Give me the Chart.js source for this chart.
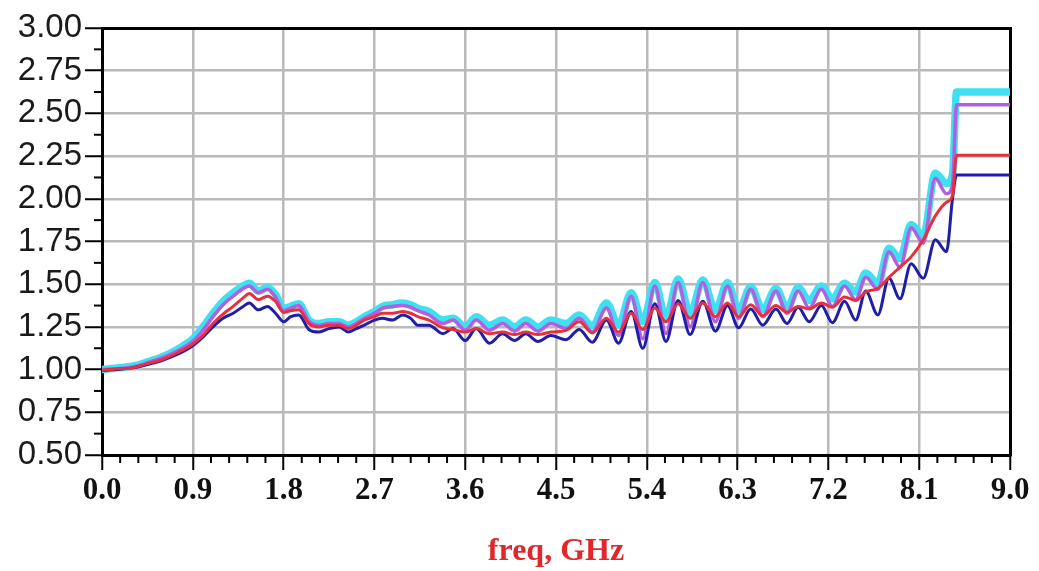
<!DOCTYPE html>
<html><head><meta charset="utf-8">
<script src="https://cdn.jsdelivr.net/npm/chart.js@4.4.1/dist/chart.umd.min.js"></script>
<style>html,body{margin:0;padding:0;background:#fff;} #wrap{width:1039px;height:571px;}</style>
</head><body><div id="wrap"><canvas id="c" width="1039" height="571"></canvas></div>
<script>
// Frequency grid (GHz), shared by all traces
const freq = [
  0, 0.15, 0.3, 0.45, 0.6, 0.75, 0.9,
  1.0, 1.1, 1.2, 1.3, 1.4, 1.46, 1.55, 1.64, 1.72, 1.8, 1.87, 1.95, 2.05, 2.15, 2.25,
  2.35, 2.44, 2.52, 2.6, 2.7, 2.78, 2.88, 2.98, 3.06, 3.13, 3.24, 3.38, 3.48, 3.6, 3.71, 3.84, 3.97, 4.09, 4.2, 4.32, 4.45,
  4.6, 4.73, 4.86, 5.0, 5.12, 5.245, 5.36, 5.48, 5.59, 5.71, 5.83, 5.955, 6.08, 6.2, 6.31, 6.43, 6.55, 6.68, 6.79, 6.9, 7.01, 7.13, 7.24, 7.36, 7.47, 7.57, 7.69, 7.8, 7.91, 8.02, 8.14, 8.26, 8.37,
  8.43, 8.47, 9.0
];
const seriesCyan = [
  1.00, 1.01, 1.02, 1.045, 1.075, 1.12, 1.18,
  1.25, 1.33, 1.40, 1.45, 1.49, 1.505, 1.46, 1.48, 1.44, 1.36, 1.37, 1.385, 1.29, 1.27, 1.28,
  1.28, 1.26, 1.28, 1.31, 1.34, 1.37, 1.38, 1.39, 1.38, 1.36, 1.34, 1.29, 1.30, 1.25, 1.31, 1.26, 1.29, 1.25, 1.29, 1.25, 1.29,
  1.27, 1.32, 1.255, 1.39, 1.26, 1.45, 1.28, 1.51, 1.30, 1.53, 1.33, 1.525, 1.345, 1.51, 1.345, 1.485, 1.35, 1.475, 1.36, 1.48, 1.405, 1.49, 1.415, 1.505, 1.455, 1.565, 1.505, 1.71, 1.65, 1.85, 1.78, 2.15, 2.09,
  2.14, 2.625, 2.625
];
const seriesMagenta = [
  1.00, 1.005, 1.015, 1.04, 1.07, 1.11, 1.165,
  1.23, 1.31, 1.38, 1.43, 1.475, 1.49, 1.45, 1.47, 1.425, 1.345, 1.36, 1.375, 1.285, 1.26, 1.27,
  1.27, 1.25, 1.27, 1.30, 1.33, 1.36, 1.37, 1.375, 1.365, 1.345, 1.32, 1.27, 1.29, 1.23, 1.29, 1.23, 1.27, 1.225, 1.27, 1.225, 1.27,
  1.24, 1.30, 1.22, 1.36, 1.20, 1.43, 1.18, 1.49, 1.21, 1.51, 1.25, 1.51, 1.28, 1.49, 1.30, 1.47, 1.31, 1.46, 1.33, 1.46, 1.36, 1.47, 1.37, 1.49, 1.41, 1.54, 1.47, 1.69, 1.60, 1.83, 1.74, 2.12, 2.03,
  2.08, 2.55, 2.55
];
const seriesRed = [
  0.995, 1.005, 1.01, 1.035, 1.06, 1.10, 1.15,
  1.20, 1.27, 1.325, 1.37, 1.42, 1.445, 1.41, 1.43, 1.40, 1.335, 1.345, 1.35, 1.27, 1.25, 1.26,
  1.26, 1.24, 1.26, 1.29, 1.31, 1.33, 1.33, 1.34, 1.33, 1.31, 1.29, 1.245, 1.235, 1.22, 1.24, 1.21, 1.22, 1.205, 1.22, 1.205, 1.22,
  1.23, 1.28, 1.215, 1.30, 1.22, 1.33, 1.235, 1.36, 1.28, 1.385, 1.30, 1.39, 1.31, 1.39, 1.31, 1.38, 1.315, 1.375, 1.335, 1.37, 1.355, 1.39, 1.365, 1.425, 1.405, 1.455, 1.475, 1.54, 1.60, 1.66, 1.76, 1.90, 1.98,
  2.02, 2.255, 2.255
];
const seriesBlue = [
  0.995, 1.0, 1.01, 1.03, 1.055, 1.09, 1.14,
  1.19, 1.25, 1.30, 1.33, 1.37, 1.39, 1.35, 1.37, 1.33, 1.28, 1.31, 1.32, 1.235, 1.22, 1.24,
  1.25, 1.22, 1.24, 1.26, 1.29, 1.30, 1.29, 1.32, 1.30, 1.26, 1.26, 1.21, 1.24, 1.17, 1.24, 1.155, 1.21, 1.17, 1.21, 1.165, 1.20,
  1.175, 1.235, 1.16, 1.29, 1.155, 1.34, 1.125, 1.385, 1.165, 1.405, 1.205, 1.40, 1.225, 1.375, 1.245, 1.355, 1.26, 1.355, 1.27, 1.365, 1.28, 1.375, 1.275, 1.40, 1.29, 1.46, 1.32, 1.535, 1.415, 1.62, 1.535, 1.76, 1.69,
  2.0, 2.14, 2.14
];
const xTickValues = [0, 0.9, 1.8, 2.7, 3.6, 4.5, 5.4, 6.3, 7.2, 8.1, 9.0];
const xMinorTicks = [0.18, 0.36, 0.54, 0.72, 1.08, 1.26, 1.44, 1.62, 1.98, 2.16, 2.34, 2.52, 2.88, 3.06, 3.24, 3.42,
  3.78, 3.96, 4.14, 4.32, 4.68, 4.86, 5.04, 5.22, 5.58, 5.76, 5.94, 6.12, 6.48, 6.66, 6.84, 7.02, 7.38, 7.56, 7.74, 7.92, 8.28, 8.46, 8.64, 8.82];
const yTickValues = [0.5, 0.75, 1.0, 1.25, 1.5, 1.75, 2.0, 2.25, 2.5, 2.75, 3.0];
const yMinorTicks = [0.625, 0.875, 1.125, 1.375, 1.625, 1.875, 2.125, 2.375, 2.625, 2.875];
const xTitle = 'freq, GHz';

function pts(vals) { return freq.map((f, i) => ({ x: f, y: vals[i] })); }

const minorTicksPlugin = {
  id: 'minorTicks',
  afterDraw(chart) {
    const { ctx, scales: { x, y } } = chart;
    ctx.save();
    ctx.strokeStyle = '#000';
    ctx.lineWidth = 2;
    xMinorTicks.forEach(v => {
      const px = x.getPixelForValue(v);
      ctx.beginPath(); ctx.moveTo(px, x.top); ctx.lineTo(px, x.top + 8); ctx.stroke();
    });
    yMinorTicks.forEach(v => {
      const py = y.getPixelForValue(v);
      ctx.beginPath(); ctx.moveTo(y.right, py); ctx.lineTo(y.right - 8, py); ctx.stroke();
    });
    ctx.restore();
  }
};

const serif = '"Liberation Serif", "Times New Roman", serif';
const sans = '"Liberation Sans", Arial, sans-serif';

new Chart(document.getElementById('c'), {
  type: 'line',
  data: {
    datasets: [
      { label: 'red', data: pts(seriesRed), borderColor: '#e8303c', borderWidth: 3 },
      { label: 'blue', data: pts(seriesBlue), borderColor: '#1e1ea8', borderWidth: 3 },
      { label: 'magenta', data: pts(seriesMagenta), borderColor: '#b35fe0', borderWidth: 3.5 },
      { label: 'cyan', data: pts(seriesCyan), borderColor: '#3fe0f2', borderWidth: 7.5 }
    ]
  },
  options: {
    responsive: false,
    animation: false,
    devicePixelRatio: 1,
    layout: { padding: { left: 0, right: 29, top: 28, bottom: 0 } },
    elements: {
      point: { radius: 0 },
      line: { cubicInterpolationMode: 'monotone', borderJoinStyle: 'round', borderCapStyle: 'round', fill: false }
    },
    plugins: { legend: { display: false }, tooltip: { enabled: false } },
    scales: {
      x: {
        type: 'linear', position: 'bottom', min: 0, max: 9,
        afterBuildTicks: s => { s.ticks = xTickValues.map(v => ({ value: v })); },
        afterFit: s => { s.height = 116; },
        ticks: { autoSkip: false, maxRotation: 0, padding: 2, color: '#111',
          font: { family: serif, size: 31, weight: 'bold' },
          callback: v => Number(v).toFixed(1) },
        grid: { color: '#bababa', lineWidth: 2.5, tickColor: '#000', tickLength: 15, tickWidth: 2 },
        border: { color: '#000', width: 3 },
        title: { display: true, text: xTitle, color: '#e0282c',
          font: { family: serif, size: 32, weight: 'bold' }, padding: { top: 0, bottom: 0 } }
      },
      y: {
        type: 'linear', position: 'left', min: 0.5, max: 3,
        afterBuildTicks: s => { s.ticks = yTickValues.map(v => ({ value: v })); },
        afterFit: s => { s.width = 102; },
        ticks: { padding: 3, color: '#1a1a1a', font: { family: sans, size: 33 },
          callback: v => Number(v).toFixed(2) },
        grid: { color: '#bababa', lineWidth: 2.5, tickColor: '#000', tickLength: 17, tickWidth: 2 },
        border: { color: '#000', width: 3 }
      },
      x2: {
        type: 'linear', position: 'top', min: 0, max: 9,
        ticks: { display: false }, grid: { display: false, drawTicks: false },
        border: { color: '#000', width: 3 },
        afterFit: s => { s.height = 0; }
      },
      y2: {
        type: 'linear', position: 'right', min: 0.5, max: 3,
        ticks: { display: false }, grid: { display: false, drawTicks: false },
        border: { color: '#000', width: 3 },
        afterFit: s => { s.width = 0; }
      }
    }
  },
  plugins: [minorTicksPlugin]
});
</script>
</body></html>
